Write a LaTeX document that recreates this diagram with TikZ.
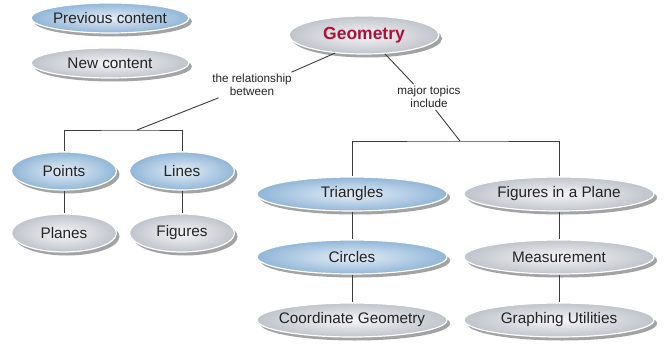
\documentclass[tikz,border=0pt]{standalone}
\usepackage{fontspec}
\setmainfont{Liberation Sans}
\usetikzlibrary{shapes.geometric,shadows}
\definecolor{blueout}{RGB}{145,182,216}
\definecolor{bluein}{RGB}{230,238,247}
\definecolor{grayout}{RGB}{192,196,203}
\definecolor{grayin}{RGB}{246,246,248}
\definecolor{linec}{RGB}{60,60,60}
\definecolor{geored}{RGB}{176,16,56}
\definecolor{txt}{RGB}{35,35,35}
\tikzset{
  bub/.style={ellipse, draw=white, line width=1.2pt, inner sep=0pt,
    text=txt, font=\fontsize{15.3}{17}\selectfont,
    drop shadow={shadow xshift=3pt, shadow yshift=-3.5pt, fill=black!45, opacity=0.8}},
  bluebub/.style={bub, inner color=bluein, outer color=blueout},
  graybub/.style={bub, inner color=grayin, outer color=grayout},
  big/.style={minimum width=190pt, minimum height=34pt, inner xsep=-20pt},
  small/.style={minimum width=105pt, minimum height=38pt},
  key/.style={minimum width=158pt, minimum height=30pt, inner xsep=-10pt},
  lab/.style={align=center, inner sep=2pt, text=txt, font=\fontsize{11.7}{12.7}\selectfont},
  conn/.style={draw=linec, line width=0.9pt}
}
\begin{document}
\begin{tikzpicture}[x=1pt,y=-1pt]
\useasboundingbox (0,0) rectangle (669,348);
\fill[white] (0,0) rectangle (669,348);
% legend
\node[bluebub,key] (prev) at (110,18) {Previous content};
\node[graybub,key] (new) at (110,63) {New content};
% root
\node[graybub, minimum width=150pt, minimum height=38pt, text=geored,
  font=\fontsize{17.5}{19}\selectfont\bfseries] (geo) at (364,35) {Geometry};
% labels
\node[lab] (rel) at (252,85) {the relationship\\between};
\node[lab] (maj) at (429,97) {major topics\\include};
% left branch
\node[bluebub,small] (pts) at (64,171) {Points};
\node[bluebub,small] (lin) at (182,171) {Lines};
\node[graybub,small] (pla) at (64,233) {Planes};
\node[graybub,small] (fig) at (182,233) {Figures};
% right branch
\node[bluebub,big] (tri) at (352,194) {Triangles};
\node[graybub,big] (fip) at (559,194) {Figures in a Plane};
\node[bluebub,big] (cir) at (352,257) {Circles};
\node[graybub,big] (mea) at (559,257) {Measurement};
\node[graybub,big] (cog) at (352,320) {Coordinate Geometry};
\node[graybub,big] (gra) at (559,320) {Graphing Utilities};
% junctions
\coordinate (j1) at (137,130);
\coordinate (j2) at (460,141);
% connectors
\draw[conn] (geo.212) -- (rel.18);
\draw[conn] (rel.201) -- (j1);
\draw[conn] (pts.north) |- (j1) -| (lin.north);
\draw[conn] (geo.318) -- (maj.140);
\draw[conn] (maj.-63) -- (j2);
\draw[conn] (tri.north) |- (j2) -| (fip.north);
\draw[conn] (pts) -- (pla);
\draw[conn] (lin) -- (fig);
\draw[conn] (tri) -- (cir);
\draw[conn] (cir) -- (cog);
\draw[conn] (fip) -- (mea);
\draw[conn] (mea) -- (gra);
\end{tikzpicture}
\end{document}
